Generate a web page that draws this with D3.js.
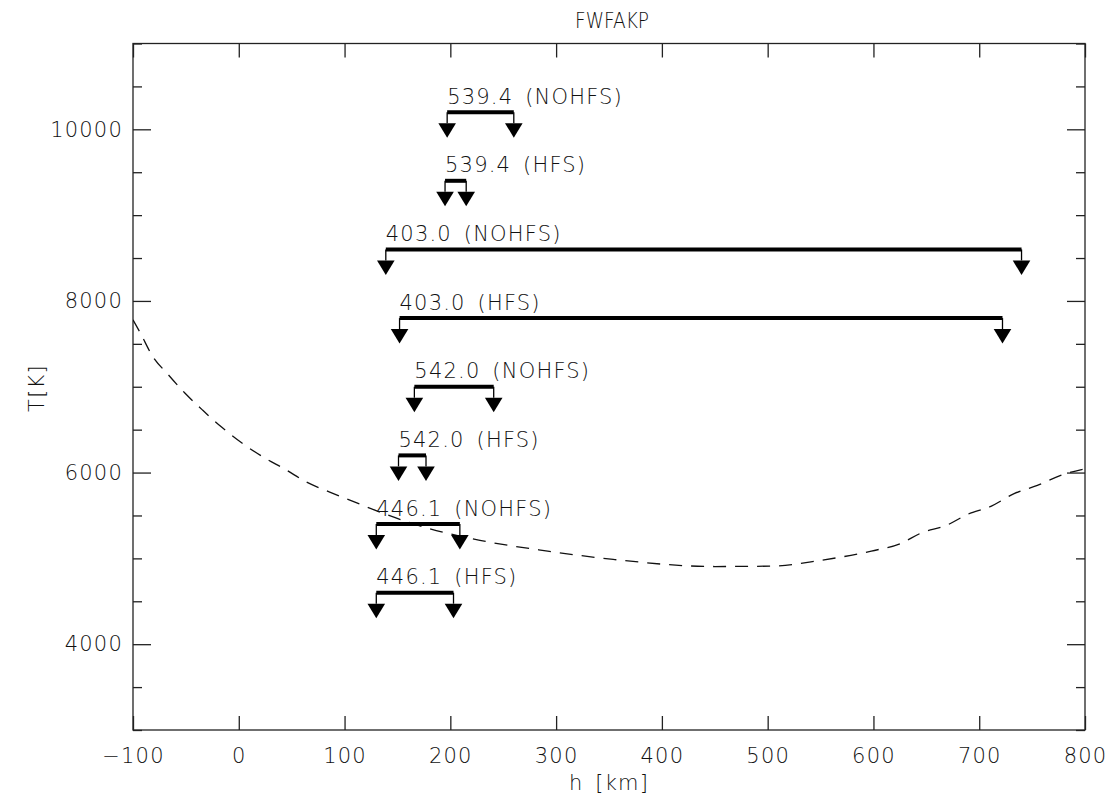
<!DOCTYPE html>
<html>
<head>
<meta charset="utf-8">
<script src="https://cdn.jsdelivr.net/npm/d3@7"></script>
<style>
  body { margin: 0; background: #fff; }
  svg text { font-family: "DejaVu Sans", sans-serif; font-weight: 200; fill: #111; letter-spacing: 1.2px; word-spacing: 4px; }
</style>
</head>
<body>
<div id="chart"></div>
<script>
// temperature profile (dashed curve)
const profileH = [-100, -93, -82, -67, -51, -34, -16, 3, 23, 44, 64, 86, 108, 131, 175, 228, 292, 354, 450, 505, 550, 598, 626, 645, 669, 689, 711, 733, 755, 777, 800];
const profileT = [7780, 7625, 7366, 7145, 6927, 6725, 6527, 6344, 6181, 6037, 5889, 5773, 5664, 5551, 5365, 5210, 5085, 4988, 4905, 4910, 4977, 5085, 5175, 5295, 5385, 5513, 5606, 5754, 5851, 5967, 6045];

// line formation ranges
const lineLabels = ["539.4 (NOHFS)", "539.4 (HFS)", "403.0 (NOHFS)", "403.0 (HFS)", "542.0 (NOHFS)", "542.0 (HFS)", "446.1 (NOHFS)", "446.1 (HFS)"];
const hStart = [197, 195, 139, 152, 166, 151, 130, 130];
const hEnd = [260, 215, 740, 722, 241, 177, 209, 203];
const tLevel = [10200, 9400, 8600, 7800, 7000, 6200, 5400, 4600];

const xTicks = [-100, 0, 100, 200, 300, 400, 500, 600, 700, 800];
const yTicks = [4000, 6000, 8000, 10000];

const margin = { top: 43.5, right: 26, bottom: 70, left: 133 };
const width = 1111 - margin.left - margin.right;
const height = 800 - margin.top - margin.bottom;

const svg = d3.select("#chart")
  .append("svg")
  .attr("width", 1111)
  .attr("height", 800);

const g = svg.append("g")
  .attr("transform", `translate(${margin.left},${margin.top})`);

const x = d3.scaleLinear().domain([-100, 800]).range([0, width]);
const y = d3.scaleLinear().domain([3000, 11000]).range([height, 0]);

g.append("clipPath").attr("id", "clip")
  .append("rect").attr("width", width).attr("height", height);

// axes, ticks pointing inward
function styleAxis(sel) {
  sel.select(".domain").remove();
  sel.selectAll("line").attr("stroke", "#222").attr("stroke-width", 1.3);
  sel.selectAll("text").attr("font-size", 21);
}

g.append("g")
  .attr("transform", `translate(0,${height})`)
  .call(d3.axisBottom(x).tickValues(xTicks).tickSize(-14).tickPadding(18).tickFormat(d => d < 0 ? "\u2212" + (-d) : d))
  .call(styleAxis);

g.append("g")
  .call(d3.axisTop(x).tickValues(xTicks).tickSize(-14).tickFormat(""))
  .call(styleAxis);

const minorY = d3.range(3000, 11001, 500).filter(v => v % 2000 !== 0);

g.append("g")
  .call(d3.axisLeft(y).tickValues(yTicks).tickSize(-18).tickPadding(10).tickFormat(d3.format("d")))
  .call(styleAxis);
g.append("g")
  .call(d3.axisLeft(y).tickValues(minorY).tickSize(-9).tickFormat(""))
  .call(styleAxis);
g.append("g")
  .attr("transform", `translate(${width},0)`)
  .call(d3.axisRight(y).tickValues(yTicks).tickSize(-18).tickFormat(""))
  .call(styleAxis);
g.append("g")
  .attr("transform", `translate(${width},0)`)
  .call(d3.axisRight(y).tickValues(minorY).tickSize(-9).tickFormat(""))
  .call(styleAxis);

g.append("rect")
  .attr("width", width)
  .attr("height", height)
  .attr("fill", "none")
  .attr("stroke", "#222")
  .attr("stroke-width", 1.3);

// dashed profile
const profile = profileH.map((h, i) => [h, profileT[i]]);
g.append("path")
  .datum(profile)
  .attr("clip-path", "url(#clip)")
  .attr("fill", "none")
  .attr("stroke", "#111")
  .attr("stroke-width", 1.3)
  .attr("stroke-dasharray", "13,9")
  .attr("d", d3.line().x(d => x(d[0])).y(d => y(d[1])).curve(d3.curveMonotoneX));

// brackets with arrows
const rows = lineLabels.map((label, i) => ({ label, h0: hStart[i], h1: hEnd[i], t: tLevel[i] }));
const stem = 11, tri = 14.5, half = 8.8;

const br = g.selectAll(".bracket").data(rows).enter().append("g").attr("class", "bracket");

br.append("line")
  .attr("x1", d => x(d.h0)).attr("x2", d => x(d.h1))
  .attr("y1", d => y(d.t)).attr("y2", d => y(d.t))
  .attr("stroke", "#000").attr("stroke-width", 4);

br.selectAll(".stem")
  .data(d => [[d.h0, d.t], [d.h1, d.t]])
  .enter().append("line")
  .attr("x1", d => x(d[0])).attr("x2", d => x(d[0]))
  .attr("y1", d => y(d[1])).attr("y2", d => y(d[1]) + stem)
  .attr("stroke", "#000").attr("stroke-width", 1.3);

br.selectAll(".tri")
  .data(d => [[d.h0, d.t], [d.h1, d.t]])
  .enter().append("path")
  .attr("fill", "#000")
  .attr("d", d => {
    const cx = x(d[0]), top = y(d[1]) + stem;
    return `M${cx - half},${top}L${cx + half},${top}L${cx},${top + tri}Z`;
  });

br.append("text")
  .attr("x", d => x(d.h0))
  .attr("y", d => y(d.t) - 8.5)
  .attr("font-size", 21)
  .text(d => d.label);

// titles
svg.append("text")
  .attr("x", 612)
  .attr("y", 28)
  .attr("text-anchor", "middle")
  .attr("font-size", 21)
  .style("letter-spacing", "0px")
  .attr("textLength", 74)
  .attr("lengthAdjust", "spacingAndGlyphs")
  .text("FWFAKP");

svg.append("text")
  .attr("x", margin.left + width / 2)
  .attr("y", 790)
  .attr("text-anchor", "middle")
  .attr("font-size", 21)
  .text("h [km]");

svg.append("text")
  .attr("transform", `translate(44,388) rotate(-90)`)
  .attr("text-anchor", "middle")
  .attr("font-size", 21)
  .text("T[K]");
</script>
</body>
</html>
